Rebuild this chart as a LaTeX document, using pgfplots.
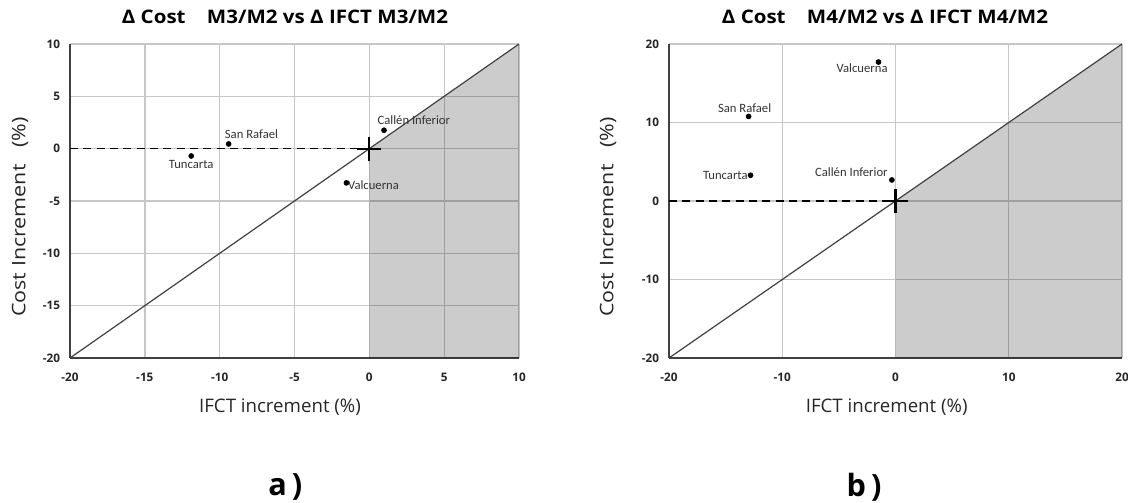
\documentclass[border=0pt]{standalone}
\usepackage{fontspec}
\setmainfont{Open Sans}
\newfontfamily\calfont{Carlito}
\usepackage{pgfplots}
\pgfplotsset{compat=1.18}
\tikzset{lbl/.style={font=\calfont\fontsize{9.5}{10}\selectfont, text=black!80, inner sep=1pt}}
\begin{document}
\begin{tikzpicture}[x=1pt,y=1pt]
\useasboundingbox (0,0) rectangle (846,377.25);
\pgfplotsset{
  mystyle/.style={
    anchor=south west, scale only axis,
    height=235.5pt,
    axis x line=bottom, axis y line=left,
    axis line style={-, draw=black!75, line width=1.3pt},
    grid=major, grid style={draw=black!22, line width=1pt},
    major tick length=0pt,
    /pgf/number format/assume math mode=true,
    ticklabel style={font=\bfseries\fontsize{8.8}{10}\selectfont, text=black!85},
    xticklabel style={yshift=-8pt},
    yticklabel style={xshift=-4pt},
  },
}
% ---------- a) ----------
\begin{axis}[mystyle, at={(52.5pt,108.75pt)}, width=336.75pt,
  xmin=-20, xmax=10, ymin=-20, ymax=10,
  xtick={-20,-15,-10,-5,0,5,10}, ytick={-20,-15,-10,-5,0,5,10}]
\addplot[draw=none, fill=black, fill opacity=0.2] coordinates {(0,-20) (10,-20) (10,10) (0,0)} -- cycle;
\addplot[black!75, line width=0.9pt] coordinates {(-20,-20) (10,10)};
\addplot[black, line width=1pt, dash pattern=on 6pt off 4pt] coordinates {(-20,0) (0,0)};
\addplot[only marks, mark=+, mark size=9pt, mark options={line width=1.7pt, black}] coordinates {(0,0)};
\addplot[only marks, mark=*, mark size=1.9pt, black] coordinates {(-11.9,-0.7) (-9.4,0.45) (0.98,1.76) (-1.53,-3.27)};
\node[lbl, anchor=north] at (axis cs:-11.9,-0.7) [yshift=-2pt] {Tuncarta};
\node[lbl, anchor=south west] at (axis cs:-9.4,0.45) [xshift=-4pt, yshift=3pt] {San Rafael};
\node[lbl, anchor=south west] at (axis cs:0.98,1.76) [xshift=-6pt, yshift=3pt] {Callén Inferior};
\node[lbl, anchor=north west] at (axis cs:-1.53,-3.27) [xshift=0pt, yshift=3pt] {Valcuerna};
\end{axis}
% ---------- b) ----------
\begin{axis}[mystyle, at={(501.75pt,108.75pt)}, width=339.75pt,
  xmin=-20, xmax=20, ymin=-20, ymax=20,
  xtick={-20,-10,0,10,20}, ytick={-20,-10,0,10,20}]
\addplot[draw=none, fill=black, fill opacity=0.2] coordinates {(0,-20) (20,-20) (20,20) (0,0)} -- cycle;
\addplot[black!75, line width=0.9pt] coordinates {(-20,-20) (20,20)};
\addplot[black, line width=1pt, dash pattern=on 6pt off 4pt] coordinates {(-20,0) (0,0)};
\addplot[only marks, mark=+, mark size=9pt, mark options={line width=1.7pt, black}] coordinates {(0,0)};
\addplot[only marks, mark=*, mark size=1.9pt, black] coordinates {(-1.5,17.7) (-12.97,10.77) (-12.8,3.28) (-0.32,2.68)};
\node[lbl, anchor=north east] at (axis cs:-1.5,17.7) [xshift=8pt, yshift=0pt] {Valcuerna};
\node[lbl, anchor=south] at (axis cs:-12.97,10.77) [xshift=-3pt, yshift=2pt] {San Rafael};
\node[lbl, anchor=east] at (axis cs:-12.8,3.28) [xshift=-1pt] {Tuncarta};
\node[lbl, anchor=south east] at (axis cs:-0.32,2.68) [xshift=-2pt, yshift=1pt] {Callén Inferior};
\end{axis}
% ---------- titles and labels ----------
\node[font=\bfseries\fontsize{14}{16}\selectfont] at (213.75,364.5) {\scalebox{1.1}[1]{Δ Cost\ \ \ \ M3/M2 vs Δ IFCT M3/M2}};
\node[font=\bfseries\fontsize{14}{16}\selectfont] at (663.75,364.5) {\scalebox{1.1}[1]{Δ Cost\ \ \ \ M4/M2 vs Δ IFCT M4/M2}};
\node[font=\fontsize{14}{16}\selectfont, text=black!85] at (210,72) {IFCT increment (\%)};
\node[font=\fontsize{14}{16}\selectfont, text=black!85] at (665,72) {IFCT increment (\%)};
\node[font=\fontsize{14}{16}\selectfont, text=black!85, rotate=90] at (15,214.5) {\scalebox{1.15}[1]{Cost Increment\ \ \ (\%)}};
\node[font=\fontsize{14}{16}\selectfont, text=black!85, rotate=90] at (456,214.5) {\scalebox{1.15}[1]{Cost Increment\ \ \ (\%)}};
\node[font=\bfseries\fontsize{23}{25}\selectfont] at (214,12) {a\,)};
\node[font=\bfseries\fontsize{23}{25}\selectfont] at (648,12) {b\,)};
\end{tikzpicture}
\end{document}
